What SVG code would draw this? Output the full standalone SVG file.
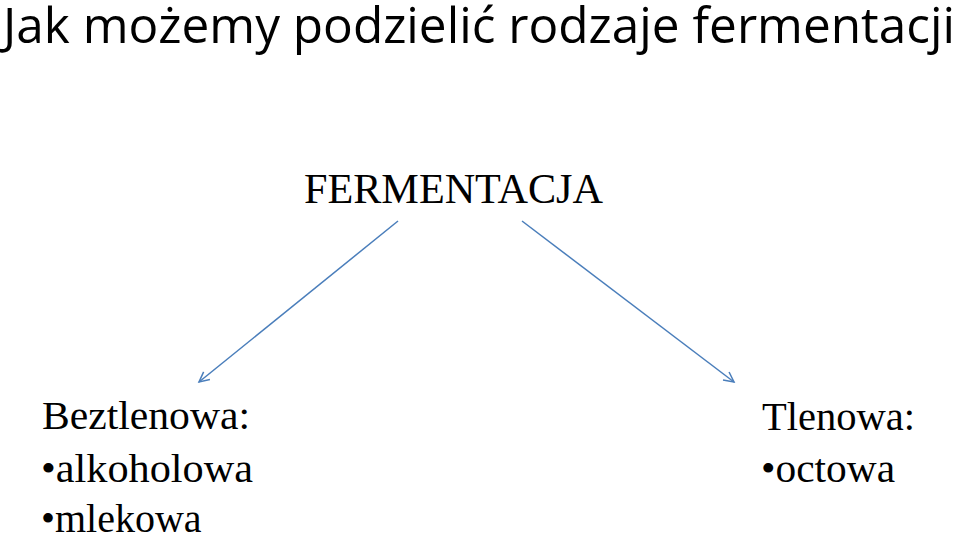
<svg xmlns="http://www.w3.org/2000/svg" width="960" height="535" viewBox="0 0 960 535">
  <style>
    .title { font-family: "Open Sans", "Noto Sans", sans-serif; font-size: 50px; fill: #000; }
    .serif { font-family: "Liberation Serif", "Times New Roman", serif; fill: #000; }
    .conn { stroke: #4A7EBB; stroke-width: 1.5; fill: none; marker-end: url(#arrow); }
  </style>
  <defs>
    <marker id="arrow" markerWidth="14" markerHeight="14" refX="11" refY="6" orient="auto" markerUnits="userSpaceOnUse">
      <path d="M1,1 L11,6 L1,11" fill="none" stroke="#4A7EBB" stroke-width="1.5"/>
    </marker>
  </defs>
  <rect width="960" height="535" fill="#ffffff"/>
  <g id="title">
    <text class="title" x="3" y="43" textLength="952" lengthAdjust="spacingAndGlyphs">Jak możemy podzielić rodzaje fermentacji</text>
  </g>
  <g id="node-fermentacja">
    <text class="serif" x="304" y="203" font-size="42" textLength="299" lengthAdjust="spacingAndGlyphs">FERMENTACJA</text>
  </g>
  <g id="node-beztlenowa">
    <text class="serif" x="42" y="429" font-size="40" textLength="208" lengthAdjust="spacingAndGlyphs">Beztlenowa:</text>
    <text class="serif" x="41" y="482" font-size="40" textLength="212" lengthAdjust="spacingAndGlyphs">•alkoholowa</text>
    <text class="serif" x="41" y="532" font-size="40">•mlekowa</text>
  </g>
  <g id="node-tlenowa">
    <text class="serif" x="762" y="430" font-size="40" textLength="153" lengthAdjust="spacingAndGlyphs">Tlenowa:</text>
    <text class="serif" x="761" y="482" font-size="40" textLength="134" lengthAdjust="spacingAndGlyphs">•octowa</text>
  </g>
  <g id="connectors">
    <line class="conn" x1="398" y1="221" x2="199" y2="382"/>
    <line class="conn" x1="522" y1="221" x2="734" y2="382"/>
  </g>
</svg>
